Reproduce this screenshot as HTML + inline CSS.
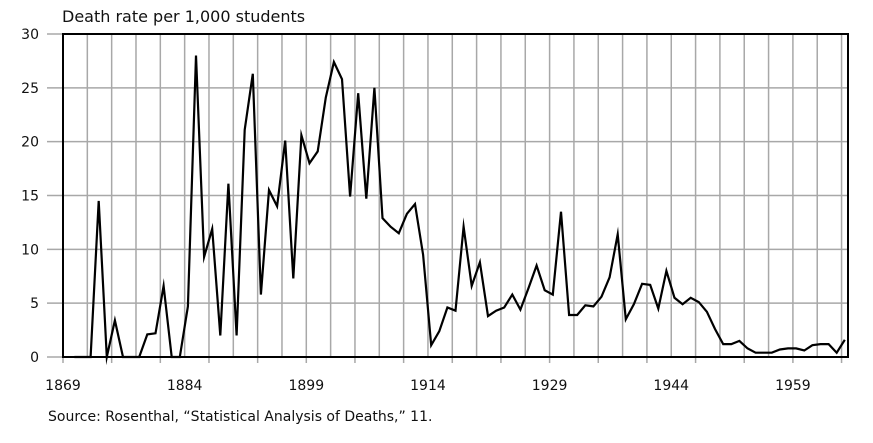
<!DOCTYPE html>
<html><head><meta charset="utf-8"><style>
html,body{margin:0;padding:0;background:#fff;width:873px;height:443px;overflow:hidden}
svg text{font-family:"DejaVu Sans","Liberation Sans",sans-serif;fill:#111}
</style></head><body>
<svg id="chart" width="873" height="443" viewBox="0 0 873 443" xmlns="http://www.w3.org/2000/svg">
<text x="62" y="22" font-size="16">Death rate per 1,000 students</text>
<text x="48" y="421" font-size="14">Source: Rosenthal, “Statistical Analysis of Deaths,” 11.</text>
<g id="grid"></g><g id="axes"></g><g id="series"></g>
</svg>
<script>
const years=[];for(let y=1870;y<=1965;y++)years.push(y);
const rates=[0,0,0,14.5,0,3.4,0,0,0,2.1,2.2,6.6,0,0,4.7,28,9.3,11.9,2.0,16.1,2.0,21.1,26.3,5.8,15.5,14.0,20.1,7.3,20.6,18.0,19.1,24.1,27.4,25.8,14.9,24.5,14.7,25.0,12.9,12.1,11.5,13.3,14.2,9.5,1.1,2.4,4.6,4.3,12.1,6.6,8.8,3.8,4.3,4.6,5.8,4.4,6.4,8.5,6.2,5.8,13.5,3.9,3.9,4.8,4.7,5.6,7.4,11.4,3.5,4.9,6.8,6.7,4.5,8.0,5.5,4.9,5.5,5.1,4.2,2.6,1.2,1.2,1.5,0.8,0.4,0.4,0.4,0.7,0.8,0.8,0.6,1.1,1.2,1.2,0.4,1.6];
const xTickLabels=[1869,1884,1899,1914,1929,1944,1959];
const yTickLabels=[0,5,10,15,20,25,30];
const NS="http://www.w3.org/2000/svg";
const L=63,R=848,T=34,B=357;
const xs=t=>L+(t-1869)*8.11;
const ys=v=>B-(v/30)*(B-T);
function mk(tag,attrs,parent){const e=document.createElementNS(NS,tag);for(const k in attrs)e.setAttribute(k,attrs[k]);parent.appendChild(e);return e;}
const grid=document.getElementById('grid'),axes=document.getElementById('axes'),series=document.getElementById('series');
yTickLabels.forEach(v=>{
  const ln=mk('line',{x1:47,x2:R,y1:ys(v),y2:ys(v),stroke:'#a8a8a8','stroke-width':1.5},grid);
  
  
  const tx=mk('text',{x:39,y:ys(v)+5,'font-size':14,'text-anchor':'end'},axes);
  tx.textContent=v;
  
  
});
for(let y=1872;y<=1965;y+=3){
  const major=(y-1869)%6===0;
  const ln=mk('line',{x1:xs(y),x2:xs(y),y1:T,y2:major?B+6:B,stroke:'#a8a8a8','stroke-width':1.5},grid);
  
  
}
const tk=mk('line',{x1:L,x2:L,y1:B,y2:B+6,stroke:'#a8a8a8','stroke-width':1.5},grid);


xTickLabels.forEach(y=>{
  const tx=mk('text',{x:xs(y),y:390,'font-size':14,'text-anchor':'middle'},axes);
  tx.textContent=y;
  
  
});
const fr=mk('rect',{x:L,y:T,width:R-L,height:B-T,fill:'none',stroke:'#000','stroke-width':2},axes);


const pts=years.map((y,i)=>xs(y+0.4).toFixed(1)+','+ys(rates[i]).toFixed(1)).join(' ');
const pl=mk('polyline',{points:pts,fill:'none',stroke:'#000','stroke-width':2.2,'stroke-linejoin':'miter','stroke-miterlimit':10},series);


</script>
</body></html>
